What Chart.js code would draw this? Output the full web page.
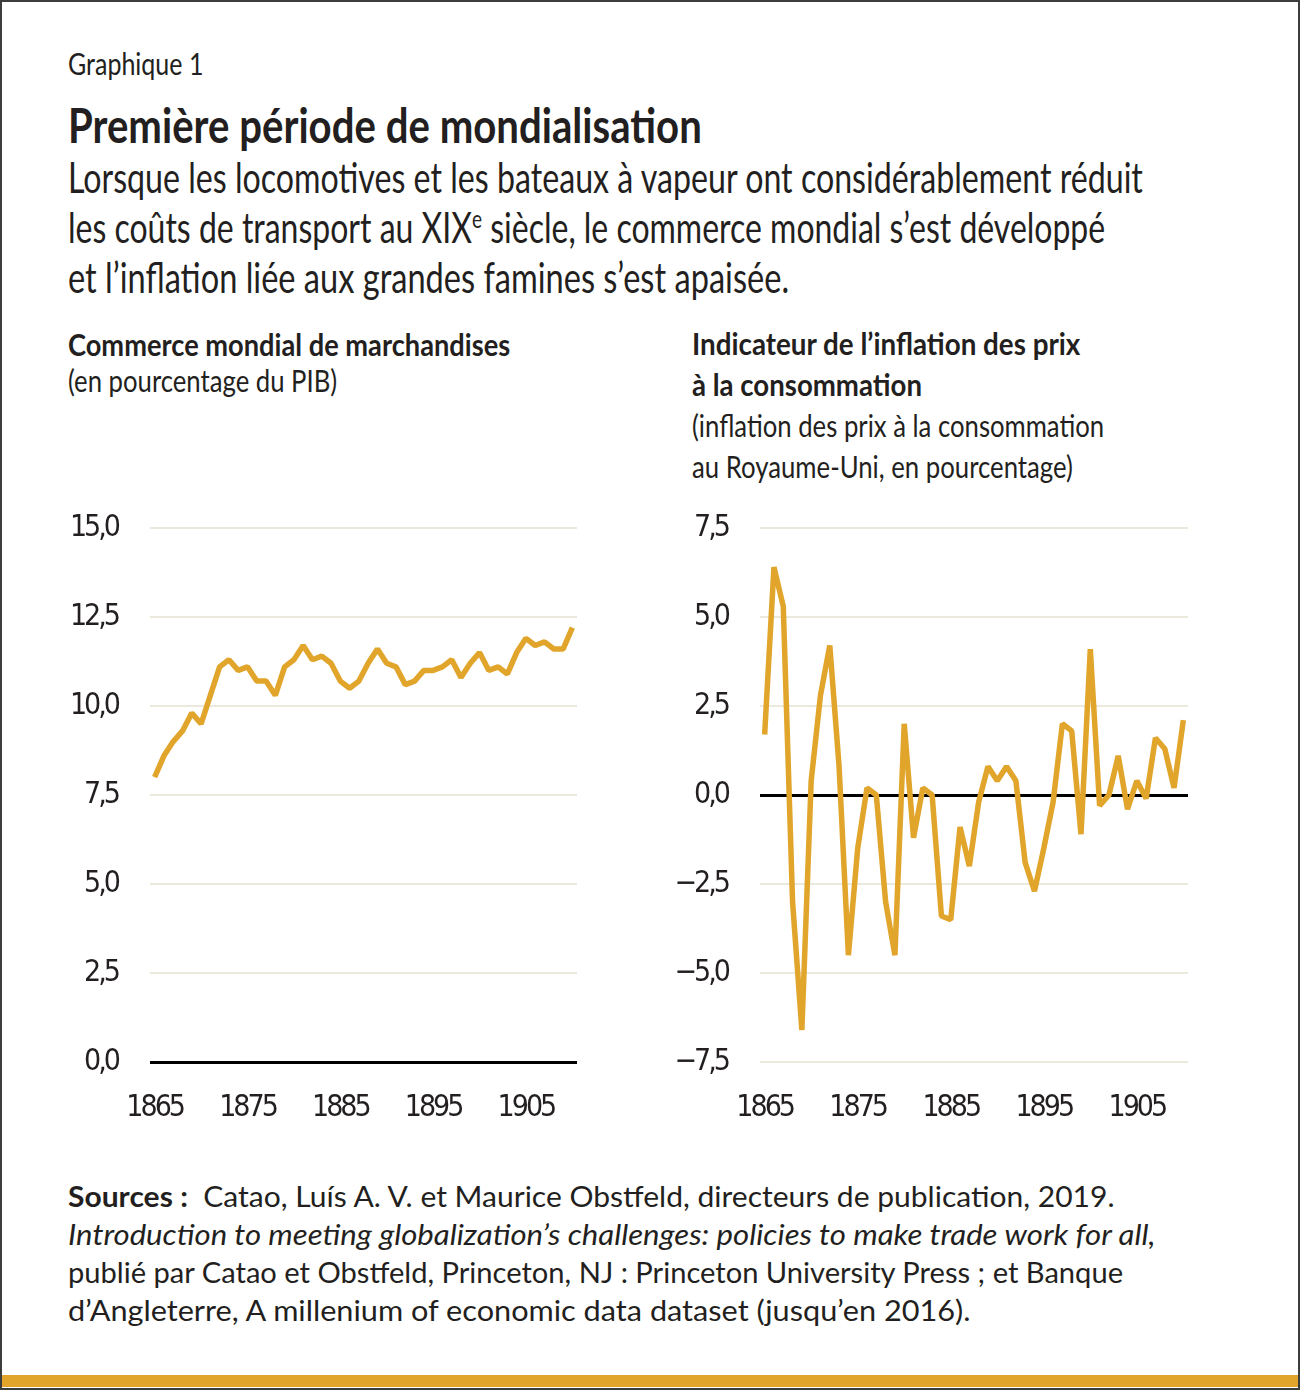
<!DOCTYPE html>
<html>
<head>
<meta charset="utf-8">
<script src="https://cdn.jsdelivr.net/npm/chart.js@4.4.1/dist/chart.umd.min.js"></script>
<style>
  html, body { margin: 0; padding: 0; background: #fff; }
  #page {
    position: relative; width: 1300px; height: 1390px; box-sizing: border-box;
    border: 2px solid #3d3d3d; overflow: hidden; background: #fff;
    font-family: Lato, 'Open Sans', sans-serif; color: #231f20;
  }
  .t { position: absolute; white-space: nowrap; line-height: 1.2; transform-origin: 0 0; }
  .b { font-weight: bold; }
  .sub { font-size: 42px; left: 66px; }
  .ct { font-size: 30px; }
  .src { font-size: 29px; left: 66px; }
  #goldbar { position: absolute; left: 0; right: 0; top: 1373px; height: 12px; background: #e0a52a; }
  canvas { position: absolute; }
</style>
</head>
<body>
<div id="page">
  <div class="t fit" data-w="135" style="left:66px; top:43px; font-size:30px;">Graphique 1</div>
  <div class="t fit b" data-w="634" style="left:66px; top:94px; font-size:48px;">Première période de mondialisation</div>

  <div class="t fit sub" data-w="1075" style="top:150px;">Lorsque les locomotives et les bateaux à vapeur ont considérablement réduit</div>
  <div class="t fit sub" data-w="1037" style="top:200px;">les coûts de transport au XIX<span style="font-size:25px; vertical-align:15px; line-height:0;">e</span> siècle, le commerce mondial s’est développé</div>
  <div class="t fit sub" data-w="721" style="top:250px;">et l’inflation liée aux grandes famines s’est apaisée.</div>

  <div class="t fit ct b" data-w="442" style="left:66px; top:324px;">Commerce mondial de marchandises</div>
  <div class="t fit ct" data-w="269" style="left:66px; top:360px;">(en pourcentage du PIB)</div>

  <div class="t fit ct b" data-w="388" style="left:690px; top:323px;">Indicateur de l’inflation des prix</div>
  <div class="t fit ct b" data-w="230" style="left:690px; top:364px;">à la consommation</div>
  <div class="t fit ct" data-w="412" style="left:690px; top:405px;">(inflation des prix à la consommation</div>
  <div class="t fit ct" data-w="381" style="left:690px; top:446px;">au Royaume-Uni, en pourcentage)</div>

  <canvas id="tradeChart" width="620" height="640" style="left:-2px; top:498px;"></canvas>
  <canvas id="inflChart" width="620" height="640" style="left:608px; top:498px;"></canvas>

  <div class="t fit src" data-w="1047" style="top:1177px;"><b>Sources :</b>&nbsp; Catao, Luís A. V. et Maurice Obstfeld, directeurs de publication, 2019.</div>
  <div class="t fit src" data-w="1087" style="top:1215px;"><i>Introduction to meeting globalization’s challenges: policies to make trade work for all,</i></div>
  <div class="t fit src" data-w="1055" style="top:1253px;">publié par Catao et Obstfeld, Princeton, NJ : Princeton University Press ; et Banque</div>
  <div class="t fit src" data-w="903" style="top:1291px;">d’Angleterre, A millenium of economic data dataset (jusqu’en 2016).</div>

  <div id="goldbar"></div>
</div>

<script>
// years 1865 - 1910
var years = [];
for (var yr = 1865; yr <= 1910; yr++) years.push(yr);

var xTickYears = [1865, 1875, 1885, 1895, 1905];

// world merchandise trade, % of GDP
var tradeValues = [
  8.0, 8.6, 9.0, 9.3, 9.8, 9.5, 10.3, 11.1, 11.3, 11.0,
  11.1, 10.7, 10.7, 10.3, 11.1, 11.3, 11.7, 11.3, 11.4, 11.2,
  10.7, 10.5, 10.7, 11.2, 11.6, 11.2, 11.1, 10.6, 10.7, 11.0,
  11.0, 11.1, 11.3, 10.8, 11.2, 11.5, 11.0, 11.1, 10.9, 11.5,
  11.9, 11.7, 11.8, 11.6, 11.6, 12.2
];

// UK consumer price inflation, %
var inflationValues = [
  1.7, 6.4, 5.3, -3.0, -6.6, 0.4, 2.8, 4.2, 0.8, -4.5,
  -1.5, 0.2, 0.0, -3.0, -4.5, 2.0, -1.2, 0.2, 0.0, -3.4,
  -3.5, -0.9, -2.0, -0.2, 0.8, 0.4, 0.8, 0.4, -1.9, -2.7,
  -1.5, -0.2, 2.0, 1.8, -1.1, 4.1, -0.3, 0.0, 1.1, -0.4,
  0.4, -0.1, 1.6, 1.3, 0.2, 2.1
];

var tradeTicks = [0, 2.5, 5, 7.5, 10, 12.5, 15];
var inflationTicks = [-7.5, -5, -2.5, 0, 2.5, 5, 7.5];

var gold = '#e0a52a';
var gridColor = '#ebe8dc';
var textColor = '#231f20';

Chart.defaults.font.family = "'DejaVu Sans Condensed', 'DejaVu Sans', sans-serif";
Chart.defaults.color = textColor;

// squeeze every text line to the width it has in the original
function fitText() {
  var els = document.querySelectorAll('.fit');
  for (var i = 0; i < els.length; i++) {
    var el = els[i];
    var w = el.offsetWidth;
    var target = parseFloat(el.getAttribute('data-w'));
    if (w > 0) el.style.transform = 'scaleX(' + (target / w) + ')';
  }
}

function fmt(v) {
  var s = Math.abs(v).toFixed(1).replace('.', ',');
  return v < 0 ? '\u2212' + s : s;
}

// tighter tick text, closer to the condensed face of the original
var narrowTicks = {
  id: 'narrowTicks',
  beforeDraw: function (chart) { chart.ctx.letterSpacing = '-3px'; }
};

function makeChart(id, values, yTicks, padRight) {
  var pts = years.map(function (y, i) { return { x: y, y: values[i] }; });
  return new Chart(document.getElementById(id).getContext('2d'), {
    type: 'line',
    data: {
      datasets: [{
        data: pts,
        borderColor: gold,
        borderWidth: 5.5,
        pointRadius: 0,
        tension: 0,
        borderJoinStyle: 'bevel',
        clip: false
      }]
    },
    plugins: [narrowTicks],
    options: {
      responsive: false,
      animation: false,
      layout: { padding: { left: 0, top: 28, right: padRight, bottom: 0 } },
      plugins: { legend: { display: false }, tooltip: { enabled: false } },
      scales: {
        x: {
          type: 'linear',
          min: 1864.5,
          max: 1910.5,
          grid: { display: false },
          border: { display: false },
          ticks: { font: { size: 30 }, padding: 20, maxRotation: 0, callback: function (v) { return String(v); } },
          afterBuildTicks: function (s) { s.ticks = xTickYears.map(function (v) { return { value: v }; }); },
          afterFit: function (s) { s.height = 78; }
        },
        y: {
          min: yTicks[0],
          max: yTicks[yTicks.length - 1],
          grid: {
            drawTicks: false,
            color: function (c) { return c.tick && c.tick.value === 0 ? '#000' : gridColor; },
            lineWidth: function (c) { return c.tick && c.tick.value === 0 ? 3 : 2; }
          },
          border: { display: false },
          ticks: { font: { size: 30 }, padding: 32, callback: function (v) { return fmt(v); } },
          afterBuildTicks: function (s) { s.ticks = yTicks.map(function (v) { return { value: v }; }); },
          afterFit: function (s) { s.width = 150; s.paddingTop = 0; s.paddingBottom = 0; }
        }
      }
    }
  });
}

fitText();
if (document.fonts && document.fonts.ready) document.fonts.ready.then(fitText);

makeChart('tradeChart', tradeValues, tradeTicks, 43);
makeChart('inflChart', inflationValues, inflationTicks, 42);
</script>
</body>
</html>
